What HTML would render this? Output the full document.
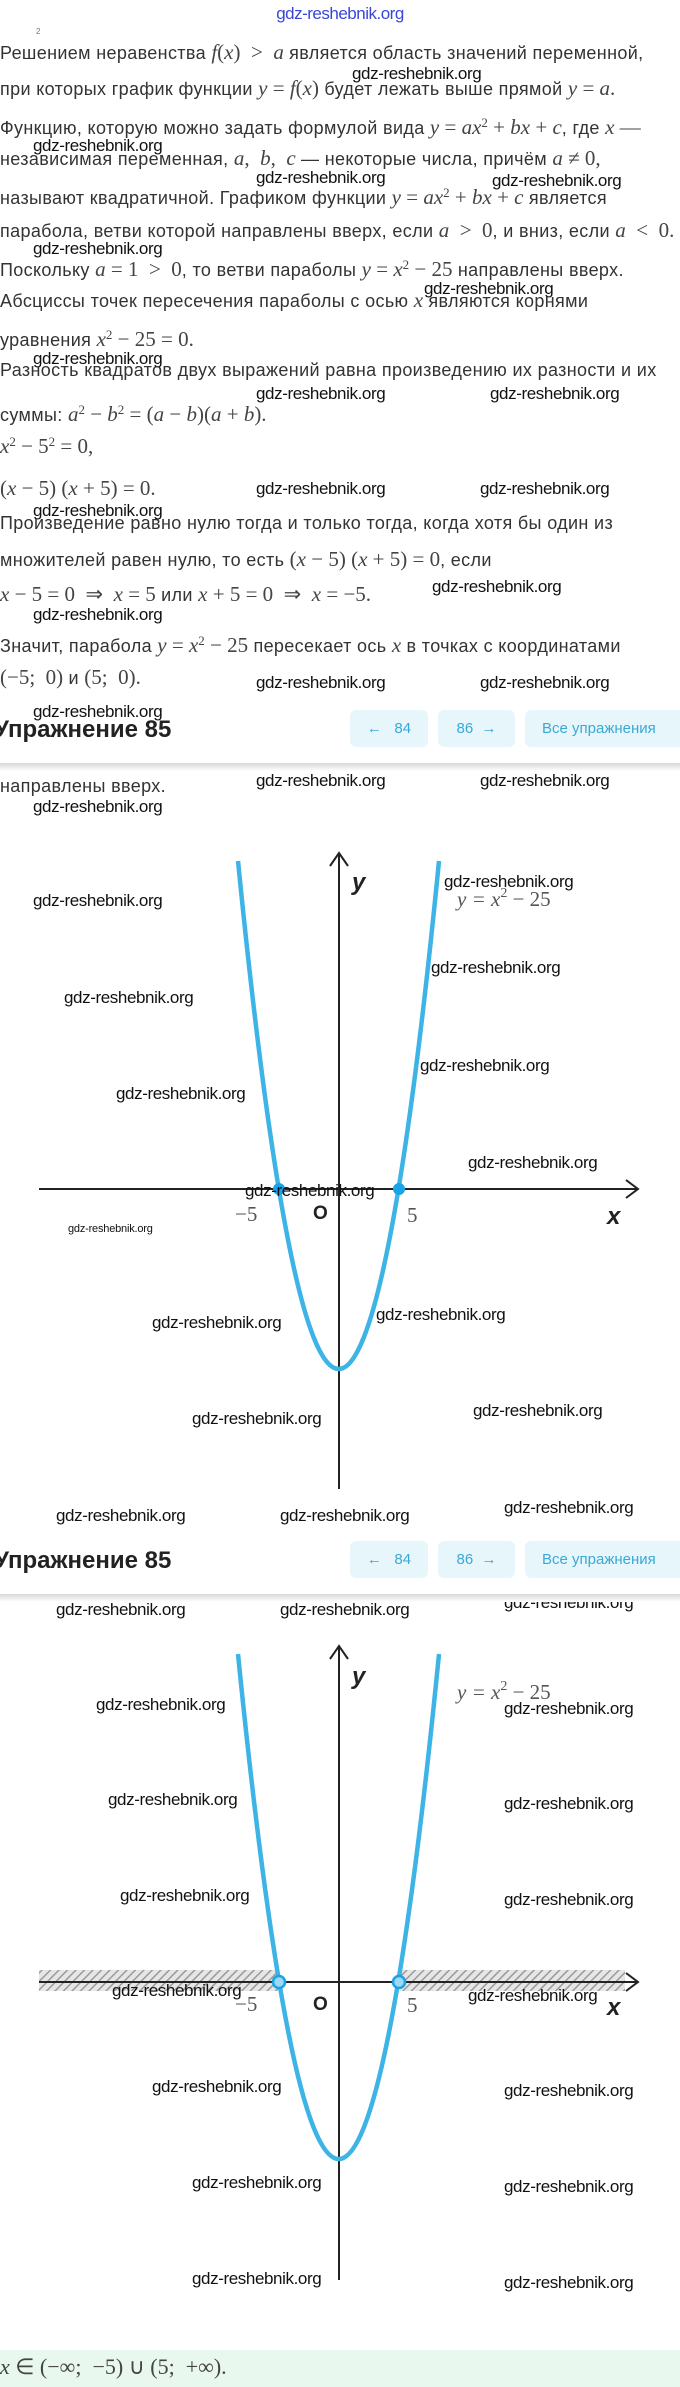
<!DOCTYPE html>
<html><head><meta charset="utf-8"><style>
body{margin:0;width:680px;height:2387px;position:relative;background:#fff;overflow:hidden;font-family:"Liberation Sans",sans-serif;color:#333}
.l{position:absolute;left:0;white-space:nowrap;font-size:18px;line-height:20px;letter-spacing:0.35px}
.m{font-family:"Liberation Serif",serif;font-style:italic;font-size:21px;color:#444;letter-spacing:0}
.n{font-family:"Liberation Serif",serif;font-size:21px;color:#444;letter-spacing:0}
.h{position:absolute;left:-6px;font-size:24px;font-weight:bold;color:#222;white-space:nowrap;line-height:28px}
.b{position:absolute;height:37px;background:#e6f6fb;border-radius:6px;color:#3aa9d6;font-size:15px;line-height:37px;text-align:center}
.sep{position:absolute;left:0;width:680px;height:8px;background:linear-gradient(#d8d8d8,#fff)}
</style></head><body>
<svg style="position:absolute;left:0;top:0" width="680" height="2387">
<defs>
<pattern id="hp" width="6" height="6" patternUnits="userSpaceOnUse" patternTransform="rotate(45)">
<rect width="6" height="6" fill="#e6e6e6"/><line x1="0" y1="0" x2="0" y2="6" stroke="#9a9a9a" stroke-width="3"/></pattern>
</defs>
<text x="340" y="19" text-anchor="middle" font-family="Liberation Sans" font-size="17" fill="#3a46d8" letter-spacing="-0.5">gdz-reshebnik.org</text>
<text x="36" y="34" font-family="Liberation Sans" font-size="8" fill="#777">2</text>
<!-- graph 1 -->
<line x1="339" y1="855" x2="339" y2="1489" stroke="#222" stroke-width="2"/>
<polyline points="330,866 339,853 348,866" fill="none" stroke="#222" stroke-width="2"/>
<line x1="39" y1="1189" x2="637" y2="1189" stroke="#222" stroke-width="2"/>
<polyline points="626,1180 638,1189 626,1198" fill="none" stroke="#222" stroke-width="2"/>
<path d="M238,861 Q339,1877 439,861" fill="none" stroke="#3db4e5" stroke-width="4.5"/>
<circle cx="279" cy="1189" r="6" fill="#1aa3e6"/><circle cx="399" cy="1189" r="6" fill="#1aa3e6"/>
<text x="352" y="890" font-family="Liberation Sans" font-weight="bold" font-style="italic" font-size="24" fill="#222">y</text>
<text x="457" y="906" font-family="Liberation Serif" font-style="italic" font-size="21" fill="#555">y = x<tspan dy="-9" font-size="14" font-style="normal">2</tspan><tspan dy="9" font-style="normal"> − 25</tspan></text>
<text x="235" y="1221" font-family="Liberation Serif" font-size="21" fill="#555">−5</text>
<text x="313" y="1219" font-family="Liberation Sans" font-weight="bold" font-size="19" fill="#222">O</text>
<text x="407" y="1222" font-family="Liberation Serif" font-size="21" fill="#555">5</text>
<text x="607" y="1224" font-family="Liberation Sans" font-weight="bold" font-style="italic" font-size="24" fill="#222">x</text>
<!-- graph 2 -->
<rect x="39" y="1970" width="239" height="21" fill="url(#hp)"/>
<rect x="400" y="1970" width="225" height="21" fill="url(#hp)"/>
<line x1="339" y1="1648" x2="339" y2="2280" stroke="#222" stroke-width="2"/>
<polyline points="330,1659 339,1646 348,1659" fill="none" stroke="#222" stroke-width="2"/>
<line x1="39" y1="1982" x2="637" y2="1982" stroke="#222" stroke-width="2"/>
<polyline points="626,1973 638,1982 626,1991" fill="none" stroke="#222" stroke-width="2"/>
<path d="M238,1654 Q339,2664 439,1654" fill="none" stroke="#3db4e5" stroke-width="4.5"/>
<circle cx="279" cy="1982" r="6" fill="#9fd8f2" stroke="#1aa3e6" stroke-width="2.5"/><circle cx="399" cy="1982" r="6" fill="#9fd8f2" stroke="#1aa3e6" stroke-width="2.5"/>
<text x="352" y="1684" font-family="Liberation Sans" font-weight="bold" font-style="italic" font-size="24" fill="#222">y</text>
<text x="457" y="1699" font-family="Liberation Serif" font-style="italic" font-size="21" fill="#555">y = x<tspan dy="-9" font-size="14" font-style="normal">2</tspan><tspan dy="9" font-style="normal"> − 25</tspan></text>
<text x="235" y="2011" font-family="Liberation Serif" font-size="21" fill="#555">−5</text>
<text x="313" y="2010" font-family="Liberation Sans" font-weight="bold" font-size="19" fill="#222">O</text>
<text x="407" y="2012" font-family="Liberation Serif" font-size="21" fill="#555">5</text>
<text x="607" y="2015" font-family="Liberation Sans" font-weight="bold" font-style="italic" font-size="24" fill="#222">x</text>
<rect x="0" y="2350" width="680" height="37" fill="#e8f8ee"/>
<g font-family="Liberation Sans" font-size="17" fill="#111" letter-spacing="-0.4">
<text x="352" y="79">gdz-reshebnik.org</text>
<text x="33" y="151">gdz-reshebnik.org</text>
<text x="256" y="183">gdz-reshebnik.org</text>
<text x="492" y="186">gdz-reshebnik.org</text>
<text x="33" y="254">gdz-reshebnik.org</text>
<text x="424" y="294">gdz-reshebnik.org</text>
<text x="33" y="364">gdz-reshebnik.org</text>
<text x="256" y="399">gdz-reshebnik.org</text>
<text x="490" y="399">gdz-reshebnik.org</text>
<text x="256" y="494">gdz-reshebnik.org</text>
<text x="480" y="494">gdz-reshebnik.org</text>
<text x="33" y="516">gdz-reshebnik.org</text>
<text x="432" y="592">gdz-reshebnik.org</text>
<text x="33" y="620">gdz-reshebnik.org</text>
<text x="256" y="688">gdz-reshebnik.org</text>
<text x="480" y="688">gdz-reshebnik.org</text>
<text x="33" y="717">gdz-reshebnik.org</text>
<text x="256" y="786">gdz-reshebnik.org</text>
<text x="480" y="786">gdz-reshebnik.org</text>
<text x="33" y="812">gdz-reshebnik.org</text>
<text x="33" y="906">gdz-reshebnik.org</text>
<text x="64" y="1003">gdz-reshebnik.org</text>
<text x="116" y="1099">gdz-reshebnik.org</text>
<text x="444" y="887">gdz-reshebnik.org</text>
<text x="431" y="973">gdz-reshebnik.org</text>
<text x="420" y="1071">gdz-reshebnik.org</text>
<text x="468" y="1168">gdz-reshebnik.org</text>
<text x="245" y="1196">gdz-reshebnik.org</text>
<text x="68" y="1232" font-size="11" letter-spacing="-0.2">gdz-reshebnik.org</text>
<text x="152" y="1328">gdz-reshebnik.org</text>
<text x="376" y="1320">gdz-reshebnik.org</text>
<text x="192" y="1424">gdz-reshebnik.org</text>
<text x="473" y="1416">gdz-reshebnik.org</text>
<text x="56" y="1521">gdz-reshebnik.org</text>
<text x="280" y="1521">gdz-reshebnik.org</text>
<text x="504" y="1513">gdz-reshebnik.org</text>
<text x="56" y="1615">gdz-reshebnik.org</text>
<text x="280" y="1615">gdz-reshebnik.org</text>
<text x="504" y="1608">gdz-reshebnik.org</text>
<text x="96" y="1710">gdz-reshebnik.org</text>
<text x="108" y="1805">gdz-reshebnik.org</text>
<text x="120" y="1901">gdz-reshebnik.org</text>
<text x="504" y="1714">gdz-reshebnik.org</text>
<text x="504" y="1809">gdz-reshebnik.org</text>
<text x="504" y="1905">gdz-reshebnik.org</text>
<text x="112" y="1996">gdz-reshebnik.org</text>
<text x="468" y="2001">gdz-reshebnik.org</text>
<text x="152" y="2092">gdz-reshebnik.org</text>
<text x="504" y="2096">gdz-reshebnik.org</text>
<text x="192" y="2188">gdz-reshebnik.org</text>
<text x="504" y="2192">gdz-reshebnik.org</text>
<text x="192" y="2284">gdz-reshebnik.org</text>
<text x="504" y="2288">gdz-reshebnik.org</text>
</g>
</svg>

<div class="l" style="top:42px">Решением неравенства <span class="m">f</span><span class="n">(</span><span class="m">x</span><span class="n">) &nbsp;&gt;&nbsp; </span><span class="m">a</span> является область значений переменной,</div>
<div class="l" style="top:78px">при которых график функции <span class="m">y</span><span class="n"> = </span><span class="m">f</span><span class="n">(</span><span class="m">x</span><span class="n">)</span> будет лежать выше прямой <span class="m">y</span><span class="n"> = </span><span class="m">a</span><span class="n">.</span></div>
<div class="l" style="top:113px">Функцию, которую можно задать формулой вида <span class="m">y</span><span class="n"> = </span><span class="m">ax</span><sup class="n" style="font-size:13px">2</sup><span class="n"> + </span><span class="m">bx</span><span class="n"> + </span><span class="m">c</span>, где <span class="m">x</span><span class="n"> —</span></div>
<div class="l" style="top:148px">независимая переменная, <span class="m">a</span><span class="n">, &nbsp;</span><span class="m">b</span><span class="n">, &nbsp;</span><span class="m">c</span> — некоторые числа, причём <span class="m">a</span><span class="n"> ≠ 0,</span></div>
<div class="l" style="top:183px">называют квадратичной. Графиком функции <span class="m">y</span><span class="n"> = </span><span class="m">ax</span><sup class="n" style="font-size:13px">2</sup><span class="n"> + </span><span class="m">bx</span><span class="n"> + </span><span class="m">c</span> является</div>
<div class="l" style="top:220px">парабола, ветви которой направлены вверх, если <span class="m">a</span><span class="n"> &nbsp;&gt;&nbsp; 0</span>, и вниз, если <span class="m">a</span><span class="n"> &nbsp;&lt;&nbsp; 0.</span></div>
<div class="l" style="top:255px">Поскольку <span class="m">a</span><span class="n"> = 1 &nbsp;&gt;&nbsp; 0</span>, то ветви параболы <span class="m">y</span><span class="n"> = </span><span class="m">x</span><sup class="n" style="font-size:13px">2</sup><span class="n"> − 25</span> направлены вверх.</div>
<div class="l" style="top:290px">Абсциссы точек пересечения параболы с осью <span class="m">x</span> являются корнями</div>
<div class="l" style="top:325px">уравнения <span class="m">x</span><sup class="n" style="font-size:13px">2</sup><span class="n"> − 25 = 0.</span></div>
<div class="l" style="top:360px">Разность квадратов двух выражений равна произведению их разности и их</div>
<div class="l" style="top:400px">суммы: <span class="m">a</span><sup class="n" style="font-size:13px">2</sup><span class="n"> − </span><span class="m">b</span><sup class="n" style="font-size:13px">2</sup><span class="n"> = (</span><span class="m">a</span><span class="n"> − </span><span class="m">b</span><span class="n">)(</span><span class="m">a</span><span class="n"> + </span><span class="m">b</span><span class="n">).</span></div>
<div class="l" style="top:432px"><span class="m">x</span><sup class="n" style="font-size:13px">2</sup><span class="n"> − 5</span><sup class="n" style="font-size:13px">2</sup><span class="n"> = 0,</span></div>
<div class="l" style="top:478px"><span class="n">(</span><span class="m">x</span><span class="n"> − 5) (</span><span class="m">x</span><span class="n"> + 5) = 0.</span></div>
<div class="l" style="top:513px">Произведение равно нулю тогда и только тогда, когда хотя бы один из</div>
<div class="l" style="top:549px">множителей равен нулю, то есть <span class="n">(</span><span class="m">x</span><span class="n"> − 5) (</span><span class="m">x</span><span class="n"> + 5) = 0</span>, если</div>
<div class="l" style="top:584px"><span class="m">x</span><span class="n"> − 5 = 0 &nbsp;⇒&nbsp; </span><span class="m">x</span><span class="n"> = 5</span> или <span class="m">x</span><span class="n"> + 5 = 0 &nbsp;⇒&nbsp; </span><span class="m">x</span><span class="n"> = −5.</span></div>
<div class="l" style="top:631px">Значит, парабола <span class="m">y</span><span class="n"> = </span><span class="m">x</span><sup class="n" style="font-size:13px">2</sup><span class="n"> − 25</span> пересекает ось <span class="m">x</span> в точках с координатами</div>
<div class="l" style="top:667px"><span class="n">(−5; &nbsp;0)</span> и <span class="n">(5; &nbsp;0).</span></div>

<div class="h" style="top:716px">Упражнение 85</div>
<div class="b" style="left:350px;top:710px;width:78px">←&nbsp;&nbsp; 84</div>
<div class="b" style="left:438px;top:710px;width:77px">86 &nbsp;→</div>
<div class="b" style="left:525px;top:710px;width:160px;text-align:left;padding-left:17px;box-sizing:border-box">Все упражнения</div>
<div class="sep" style="top:763px"></div>
<div class="l" style="top:776px">направлены вверх.</div>

<div class="h" style="top:1547px">Упражнение 85</div>
<div class="b" style="left:350px;top:1541px;width:78px">←&nbsp;&nbsp; 84</div>
<div class="b" style="left:438px;top:1541px;width:77px">86 &nbsp;→</div>
<div class="b" style="left:525px;top:1541px;width:160px;text-align:left;padding-left:17px;box-sizing:border-box">Все упражнения</div>
<div class="sep" style="top:1594px"></div>

<div class="l" style="top:2357px;font-size:20px"><span class="m" style="font-size:22px">x</span><span class="n" style="font-size:22px"> ∈ (−∞; &nbsp;−5) ∪ (5; &nbsp;+∞).</span></div>
</body></html>
